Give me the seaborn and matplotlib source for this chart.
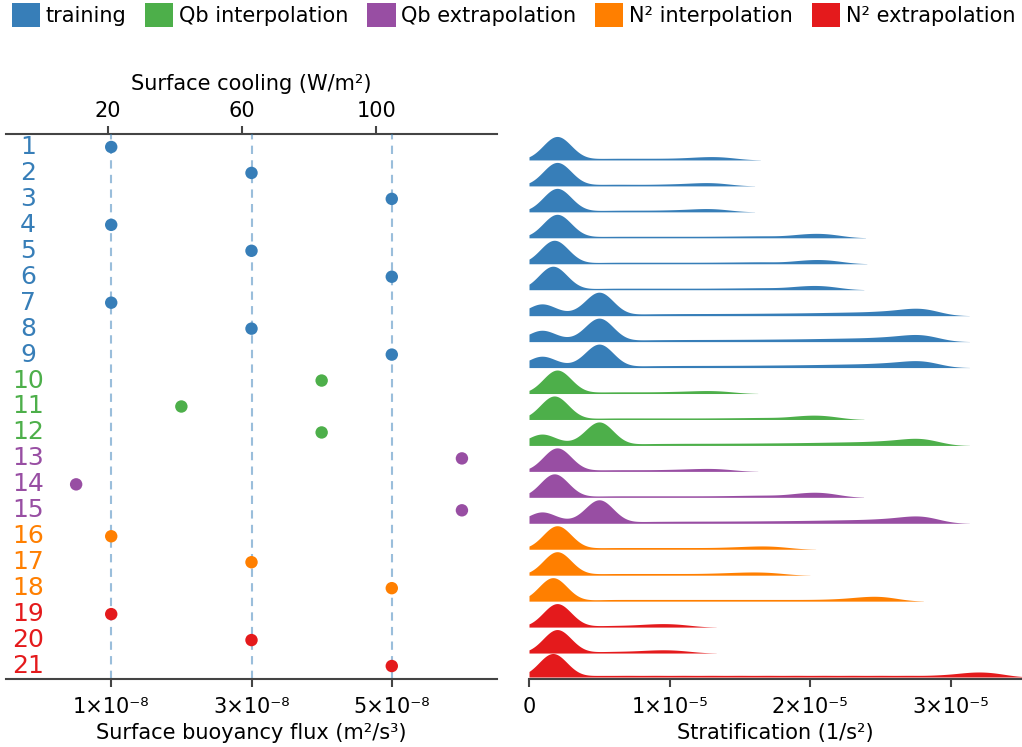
import numpy as np
import pandas as pd
import matplotlib
matplotlib.use("Agg")
import matplotlib.pyplot as plt
import matplotlib.transforms as mtransforms
from matplotlib.patches import Patch
import seaborn as sns

# ---------------------------------------------------------------- data
groups = ["training", "Qb interpolation", "Qb extrapolation",
          "N² interpolation", "N² extrapolation"]
group_colors = ["#377eb8", "#4daf4a", "#984ea3", "#ff7f00", "#e41a1c"]

runs = [1, 2, 3, 4, 5, 6, 7, 8, 9, 10, 11, 12, 13, 14, 15, 16, 17, 18, 19, 20, 21]
run_group = ["training", "training", "training", "training", "training",
             "training", "training", "training", "training",
             "Qb interpolation", "Qb interpolation", "Qb interpolation",
             "Qb extrapolation", "Qb extrapolation", "Qb extrapolation",
             "N² interpolation", "N² interpolation", "N² interpolation",
             "N² extrapolation", "N² extrapolation", "N² extrapolation"]

# surface buoyancy flux of each run (m²/s³)
buoyancy_flux = [1e-8, 3e-8, 5e-8, 1e-8, 3e-8, 5e-8, 1e-8, 3e-8, 5e-8,
                 4e-8, 2e-8, 4e-8, 6e-8, 0.5e-8, 6e-8,
                 1e-8, 3e-8, 5e-8, 1e-8, 3e-8, 5e-8]
training_flux = [1e-8, 3e-8, 5e-8]

flux_ticks = [1e-8, 3e-8, 5e-8]
flux_ticklabels = ["1×10⁻⁸", "3×10⁻⁸", "5×10⁻⁸"]
cooling_ticks = [20, 60, 100]
n2_ticks = [0, 1e-5, 2e-5, 3e-5]
n2_ticklabels = ["0", "1×10⁻⁵", "2×10⁻⁵", "3×10⁻⁵"]

# stratification levels of each run (units of 1e-5 s⁻²) and their weights
n2_values = [
    [0.20, 0.50, 0.65, 0.80, 0.95, 1.10, 1.22, 1.33, 1.44],
    [0.20, 0.50, 0.65, 0.80, 0.95, 1.08, 1.20, 1.30, 1.40],
    [0.20, 0.50, 0.65, 0.80, 0.95, 1.08, 1.20, 1.30, 1.40],
    [0.20, 0.50, 0.65, 0.80, 0.95, 1.10, 1.25, 1.40, 1.55, 1.70, 1.88, 1.99, 2.09, 2.19],
    [0.18, 0.50, 0.65, 0.80, 0.95, 1.10, 1.25, 1.40, 1.55, 1.70, 1.89, 2.00, 2.10, 2.20],
    [0.17, 0.50, 0.65, 0.80, 0.95, 1.10, 1.25, 1.40, 1.55, 1.70, 1.87, 1.98, 2.08, 2.18],
    [0.09, 0.30, 0.50, 0.80, 0.95, 1.10, 1.25, 1.40, 1.55, 1.70, 1.85, 2.00, 2.15, 2.30, 2.45, 2.58, 2.69, 2.79, 2.89],
    [0.09, 0.30, 0.50, 0.80, 0.95, 1.10, 1.25, 1.40, 1.55, 1.70, 1.85, 2.00, 2.15, 2.30, 2.45, 2.58, 2.69, 2.79, 2.89],
    [0.09, 0.30, 0.50, 0.80, 0.95, 1.10, 1.25, 1.40, 1.55, 1.70, 1.85, 2.00, 2.15, 2.30, 2.45, 2.58, 2.69, 2.79, 2.89],
    [0.20, 0.50, 0.65, 0.80, 0.95, 1.08, 1.20, 1.31, 1.42],
    [0.18, 0.50, 0.65, 0.80, 0.95, 1.10, 1.25, 1.40, 1.55, 1.70, 1.87, 1.98, 2.08, 2.18],
    [0.09, 0.30, 0.50, 0.80, 0.95, 1.10, 1.25, 1.40, 1.55, 1.70, 1.85, 2.00, 2.15, 2.30, 2.45, 2.58, 2.69, 2.79, 2.89],
    [0.20, 0.50, 0.65, 0.80, 0.95, 1.08, 1.20, 1.31, 1.42],
    [0.18, 0.50, 0.65, 0.80, 0.95, 1.10, 1.25, 1.40, 1.55, 1.70, 1.87, 1.98, 2.08, 2.18],
    [0.09, 0.30, 0.50, 0.80, 0.95, 1.10, 1.25, 1.40, 1.55, 1.70, 1.85, 2.00, 2.15, 2.30, 2.45, 2.58, 2.69, 2.79, 2.89],
    [0.20, 0.50, 0.65, 0.80, 0.95, 1.10, 1.25, 1.40, 1.52, 1.63, 1.73, 1.83],
    [0.20, 0.50, 0.65, 0.80, 0.95, 1.10, 1.25, 1.38, 1.49, 1.59, 1.69, 1.79],
    [0.17, 0.50, 0.65, 0.80, 0.95, 1.10, 1.25, 1.40, 1.55, 1.70, 1.85, 2.00, 2.15, 2.29, 2.40, 2.50, 2.60],
    [0.20, 0.50, 0.62, 0.74, 0.85, 0.95, 1.05, 1.13],
    [0.20, 0.50, 0.62, 0.74, 0.85, 0.95, 1.05, 1.13],
    [0.17, 0.50, 0.70, 0.90, 1.10, 1.30, 1.50, 1.70, 1.90, 2.10, 2.30, 2.50, 2.70, 2.90, 3.05, 3.15, 3.25, 3.35],
]
n2_weights = [
    [23, 1.0, 1.0, 1.0, 1.0, 1.1, 1.4, 1.8, 1.1],
    [23, 1.0, 1.0, 0.9, 1.0, 1.1, 1.4, 1.6, 1.0],
    [23, 0.9, 1.0, 1.0, 1.0, 1.1, 1.4, 1.6, 1.0],
    [23, 0.9, 0.9, 0.9, 0.9, 0.9, 0.9, 1.0, 1.1, 1.3, 1.5, 1.9, 2.1, 1.3],
    [23, 0.9, 0.9, 0.9, 0.9, 0.9, 0.9, 1.0, 1.1, 1.3, 1.5, 1.8, 2.0, 1.2],
    [23, 0.9, 0.9, 0.9, 0.9, 0.9, 0.9, 1.0, 1.1, 1.3, 1.5, 1.8, 2.0, 1.2],
    [10.9, 1.2, 21.8, 1.1, 1.1, 1.2, 1.2, 1.25, 1.3, 1.4, 1.5, 1.65, 1.85, 2.05, 2.25, 2.3, 2.8, 3.6, 2.0],
    [10.5, 1.2, 21.8, 1.1, 1.1, 1.2, 1.2, 1.25, 1.3, 1.4, 1.5, 1.65, 1.85, 2.05, 2.25, 2.3, 2.7, 3.4, 1.9],
    [10.5, 1.2, 21.8, 1.1, 1.1, 1.2, 1.2, 1.25, 1.3, 1.4, 1.5, 1.65, 1.85, 2.05, 2.25, 2.3, 2.6, 3.3, 1.9],
    [23, 1.0, 1.0, 1.0, 1.0, 1.1, 1.3, 1.5, 1.0],
    [23, 0.9, 0.9, 0.9, 0.9, 0.9, 0.9, 1.0, 1.1, 1.3, 1.5, 1.9, 2.0, 1.2],
    [10.5, 1.2, 21.8, 1.1, 1.1, 1.2, 1.2, 1.25, 1.3, 1.4, 1.5, 1.65, 1.85, 2.05, 2.25, 2.3, 2.7, 3.4, 1.9],
    [23, 1.0, 1.0, 1.0, 1.0, 1.1, 1.3, 1.5, 1.0],
    [23, 0.9, 0.9, 0.9, 0.9, 0.9, 0.9, 1.0, 1.2, 1.4, 1.7, 2.2, 2.4, 1.4],
    [10.5, 1.2, 21.8, 1.1, 1.1, 1.2, 1.2, 1.25, 1.3, 1.4, 1.5, 1.65, 1.85, 2.05, 2.25, 2.3, 2.8, 3.5, 2.0],
    [23, 1.0, 1.0, 1.0, 1.0, 1.0, 1.0, 1.1, 1.2, 1.5, 1.4, 0.9],
    [23, 1.0, 1.0, 1.0, 1.0, 1.0, 1.0, 1.1, 1.2, 1.4, 1.3, 0.9],
    [23, 1.0, 1.0, 1.0, 1.0, 1.0, 1.0, 1.0, 1.0, 1.0, 1.0, 1.0, 1.2, 1.6, 2.0, 2.4, 1.3],
    [23, 0.8, 0.8, 0.9, 1.3, 1.6, 1.3, 0.7],
    [23, 0.8, 0.8, 0.9, 1.2, 1.5, 1.2, 0.7],
    [23, 1.3, 1.3, 1.3, 1.3, 1.3, 1.3, 1.3, 1.3, 1.3, 1.3, 1.3, 1.3, 1.3, 1.5, 2.2, 2.2, 1.6],
]

# conversion between buoyancy flux and surface heat loss
RHO0, CP, ALPHA, GRAV = 1027.0, 4000.0, 2e-4, 9.81
def flux_to_cooling(b):
    return b * RHO0 * CP / (ALPHA * GRAV)
def cooling_to_flux(q):
    return q * ALPHA * GRAV / (RHO0 * CP)

KDE_BANDWIDTH = 0.1e-5   # s⁻², kernel width used for every ridge

# ---------------------------------------------------------------- style
sns.set_style("white")
plt.rcParams["font.family"] = ["DejaVu Sans"]
plt.rcParams["text.color"] = "black"
plt.rcParams["axes.labelcolor"] = "black"
plt.rcParams["xtick.labelcolor"] = "black"
SPINE = "#444444"
color_of = dict(zip(groups, group_colors))

fig = plt.figure(figsize=(10.22, 7.47), dpi=100)
W, H = 1022.0, 747.0
top_px, bottom_px = 134.0, 679.0
gs = fig.add_gridspec(
    21, 2, left=6 / W, right=1021 / W,
    bottom=1 - bottom_px / H, top=1 - top_px / H,
    width_ratios=[491, 492], wspace=32 / 491.5, hspace=0,
)

# ---------------------------------------------------------------- left panel
ax = fig.add_subplot(gs[:, 0])
for xv in training_flux:
    ax.axvline(xv, color=group_colors[0], alpha=0.5, lw=1.5,
               ls=(0, (4, 3)), zorder=1)

df = pd.DataFrame({"run": runs, "flux": buoyancy_flux, "group": run_group})
sns.scatterplot(data=df, x="flux", y="run", hue="group", hue_order=groups,
                palette=group_colors, s=80, linewidth=0, legend=False,
                ax=ax, zorder=3, clip_on=False)

ax.set_xlim(-0.5e-8, 6.5e-8)
ax.set_ylim(21.5, 0.5)
ax.set_yticks([])
ax.set_ylabel("")
ax.set_xticks(flux_ticks)
ax.set_xticklabels(flux_ticklabels)
ax.set_xlabel("Surface buoyancy flux (m²/s³)", fontsize=15)
for side in ["left", "right", "top"]:
    ax.spines[side].set_visible(False)
ax.spines["bottom"].set_color(SPINE)
ax.spines["bottom"].set_linewidth(1.5)
ax.tick_params(axis="x", direction="out", length=5.5, width=1.5, pad=7.5,
               color=SPINE, labelsize=15, bottom=True)

trans = mtransforms.blended_transform_factory(ax.transAxes, ax.transData)
for run, grp in zip(runs, run_group):
    ax.text(0.0448, run, str(run), transform=trans, ha="center", va="center",
            fontsize=18, color=color_of[grp])

sec = ax.secondary_xaxis("top", functions=(flux_to_cooling, cooling_to_flux))
sec.set_xticks(cooling_ticks)
sec.set_xlabel("Surface cooling (W/m²)", fontsize=15, labelpad=8)
sec.tick_params(axis="x", direction="out", length=5.5, width=1.5,
                color=SPINE, labelsize=15)
sec.spines["top"].set_color(SPINE)
sec.spines["top"].set_linewidth(1.5)

# ---------------------------------------------------------------- ridge panel
slot_px = (bottom_px - top_px) / 21
peak_px = 23.5
ridge_axes = []
for i, (vals, wts, grp) in enumerate(zip(n2_values, n2_weights, run_group)):
    rax = fig.add_subplot(gs[i, 1], sharex=ridge_axes[0] if ridge_axes else None)
    ridge_axes.append(rax)
    x = np.asarray(vals) * 1e-5
    std = np.sqrt(np.cov(x, aweights=wts))
    sns.kdeplot(x=x, weights=wts, fill=True, alpha=1, linewidth=0,
                color=color_of[grp], bw_method=KDE_BANDWIDTH / std, cut=3,
                clip=(0, None), gridsize=600, ax=rax)
    ymax = rax.collections[-1].get_paths()[0].vertices[:, 1].max()
    per_px = ymax / peak_px
    # the lowest ridge sits just above the axis line
    lift_px = 2.0 if i == len(n2_values) - 1 else 0.0
    rax.set_ylim(-lift_px * per_px, (slot_px - lift_px) * per_px)
    rax.set_yticks([])
    rax.set_ylabel("")
    rax.set_xlabel("")
    rax.patch.set_alpha(0)
    for side in ["left", "right", "top", "bottom"]:
        rax.spines[side].set_visible(False)

last = ridge_axes[-1]
last.set_xlim(0, 3.5e-5)
last.set_xticks(n2_ticks)
last.set_xticklabels(n2_ticklabels)
for rax in ridge_axes[:-1]:
    rax.tick_params(axis="x", bottom=False, labelbottom=False)
last.spines["bottom"].set_visible(True)
last.spines["bottom"].set_color(SPINE)
last.spines["bottom"].set_linewidth(1.5)
last.tick_params(axis="x", direction="out", length=5.5, width=1.5, pad=7.5,
                 color=SPINE, labelsize=15, bottom=True, labelbottom=True)
last.set_xlabel("Stratification (1/s²)", fontsize=15)

# ---------------------------------------------------------------- legend
handles = [Patch(facecolor=c, edgecolor="none", label=g)
           for g, c in zip(groups, group_colors)]
fig.legend(handles=handles, loc="upper center", bbox_to_anchor=(0.5025, 1.0),
           ncol=5, frameon=False, fontsize=15, handlelength=1.35,
           handleheight=1.35, handletextpad=0.28, columnspacing=0.9,
           borderaxespad=0.0, borderpad=0.15)

fig.savefig("out.png", dpi=100)
